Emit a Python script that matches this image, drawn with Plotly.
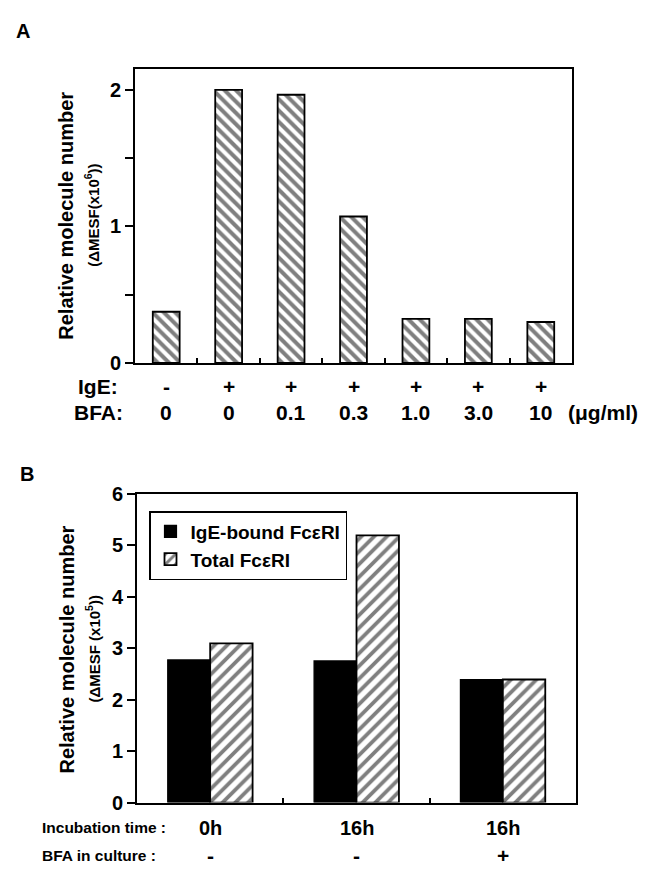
import plotly.graph_objects as go

# ---------------- data ----------------
# Panel A
ige_a = ["-", "+", "+", "+", "+", "+", "+"]
bfa_a = ["0", "0", "0.1", "0.3", "1.0", "3.0", "10"]
cats_a = [f"IgE{i} BFA{b}" for i, b in zip(ige_a, bfa_a)]
vals_a = [0.375, 2.0, 1.965, 1.073, 0.323, 0.323, 0.30]
yticks_a = [0, 1, 2]
yminor_a = [0.5, 1.5]

# Panel B
time_b = ["0h", "16h", "16h"]
bfa_b = ["-", "-", "+"]
cats_b = [f"{t} BFA{b}" for t, b in zip(time_b, bfa_b)]
ige_bound = [2.77, 2.75, 2.39]
total = [3.09, 5.19, 2.39]
yticks_b = [0, 1, 2, 3, 4, 5, 6]

W, H = 645, 876
FONT = "Liberation Sans, Arial, Helvetica, sans-serif"


def px(x):
    return x / W


def py(y):
    return 1 - y / H


fig = go.Figure()

fig.add_trace(go.Bar(
    x=cats_a, y=vals_a, xaxis="x", yaxis="y", width=0.43,
    marker=dict(color="white", line=dict(color="black", width=1.8),
                pattern=dict(shape="\\", fgcolor="black", bgcolor="white",
                             size=8, solidity=0.5)),
    showlegend=False,
))

fig.add_trace(go.Bar(
    x=cats_b, y=ige_bound, xaxis="x2", yaxis="y2", name="IgE-bound FcεRI",
    width=0.29, offset=-0.29,
    marker=dict(color="black", line=dict(color="black", width=1.2)),
))
fig.add_trace(go.Bar(
    x=cats_b, y=total, xaxis="x2", yaxis="y2", name="Total FcεRI",
    width=0.29, offset=0.0,
    marker=dict(color="white", line=dict(color="black", width=1.8),
                pattern=dict(shape="/", fgcolor="black", bgcolor="white",
                             size=9, solidity=0.42)),
))

axis_common = dict(showline=True, linecolor="black", linewidth=2, mirror=True,
                   showgrid=False, zeroline=False)

tickfont = dict(family=FONT, size=20, color="black", weight="bold")

fig.update_layout(
    width=W, height=H,
    margin=dict(l=0, r=0, t=0, b=0),
    paper_bgcolor="white", plot_bgcolor="white",
    barmode="overlay",
    font=dict(family=FONT, color="black"),
    xaxis=dict(domain=[px(135), px(572)], anchor="y", type="category",
               range=[-0.5, 6.5], showticklabels=False,
               ticks="inside", tickson="boundaries", ticklen=5, tickwidth=1.5,
               tickcolor="black", **axis_common),
    yaxis=dict(domain=[py(361), py(59)], anchor="x", range=[0, 2.157],
               tickvals=yticks_a,
               ticks="outside", ticklen=8, tickwidth=1.5, tickcolor="black",
               minor=dict(tickvals=yminor_a, ticks="outside", ticklen=8,
                          tickwidth=1.5, tickcolor="black", showgrid=False),
               tickfont=tickfont, **axis_common),
    xaxis2=dict(domain=[px(137), px(576)], anchor="y2", type="category",
                range=[-0.5, 2.5], showticklabels=False,
                ticks="inside", tickson="boundaries", ticklen=5, tickwidth=1.5,
                tickcolor="black", **axis_common),
    yaxis2=dict(domain=[py(812), py(495)], anchor="x2", range=[0, 6],
                tickvals=yticks_b,
                ticks="outside", ticklen=8, tickwidth=1.5, tickcolor="black",
                tickfont=tickfont, **axis_common),
    legend=dict(x=px(149), y=py(513), xanchor="left", yanchor="top",
                bgcolor="white", bordercolor="black", borderwidth=1.5,
                font=dict(family=FONT, size=19, color="black", weight="bold"),
                traceorder="normal", itemwidth=30),
)

ann = []


def text(x, y, s, size=19, xref="paper", xanchor="center", angle=0, weight="bold"):
    ann.append(dict(x=x, y=y, xref=xref, yref="paper", text=s, showarrow=False,
                    xanchor=xanchor, yanchor="middle", textangle=angle,
                    font=dict(family=FONT, size=size, color="black", weight=weight)))


# Panel letters
text(px(23), py(21), "A", size=20)
text(px(27), py(475), "B", size=20)

# Panel A y-title
text(px(66), py(210), "Relative molecule number", size=20, angle=-90)
text(px(92), py(210), "(ΔMESF(x10<sup>6</sup>))", size=15, angle=-90)

# Panel B y-title
text(px(67), py(655), "Relative molecule number", size=20, angle=-90)
text(px(93), py(655), "(ΔMESF (x10<sup>5</sup>))", size=15, angle=-90)

# Panel A condition rows
text(px(98), py(385), "IgE:", size=21)
text(px(98), py(412), "BFA:", size=21)
for c, i, b in zip(cats_a, ige_a, bfa_a):
    text(c, py(385), i, size=21, xref="x")
    text(c, py(412), b, size=21, xref="x")
text(px(566), py(412), "(μg/ml)", size=21, xanchor="left")

# Panel B condition rows
text(px(40), py(838), "Incubation time :", size=15.5, xanchor="left")
text(px(40), py(866), "BFA in culture :", size=15.5, xanchor="left")
for c, t, b in zip(cats_b, time_b, bfa_b):
    text(c, py(838), t, size=20, xref="x2")
    text(c, py(866), b, size=21, xref="x2")

fig.update_layout(annotations=ann)

fig.write_html("out.html")
